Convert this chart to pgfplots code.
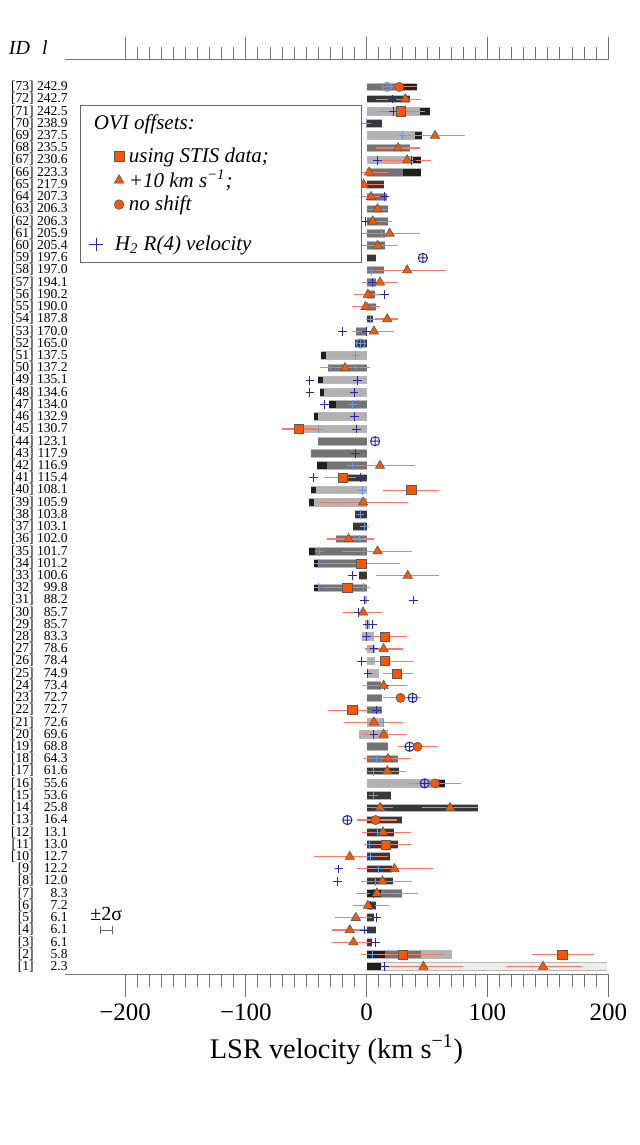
\documentclass[border=0pt]{standalone}
\usepackage{fontspec}
\setmainfont{Liberation Serif}
\usepackage{pgfplots}
\usepackage{pgfplotstable}
\pgfplotsset{compat=1.18}

\definecolor{orng}{RGB}{255,85,0}
\definecolor{errc}{RGB}{255,120,100}
\definecolor{hblue}{RGB}{40,40,170}
\definecolor{hlight}{RGB}{110,150,225}

\newcommand\lb[2]{\makebox[14pt][r]{[#1]}\makebox[17pt][r]{#2}}
\newcommand\ls{\rule[-3.2pt]{0pt}{10.95pt}}

% bars: y, start, length
\pgfplotstableread{
y a d
1 0 199
}\vlightbars
\pgfplotstableread{
y a d
71 0 52
69 0 46
67 0 45
51 -38 38
49 -40 40
48 -39 39
46 -44 44
45 -59 59
40 -46 46
39 -48 48
31 -2 2
29 -1 4
28 -3.6 9.6
27 0 7
26 0 7
25 0 10
21 0 14
20 -6 23.5
16 0 64.5
2 0 71
}\lightbars
\pgfplotstableread{
y a d
73 0 42
68 0 36
66 0 45
64 0 17
63 0 18
62 0 18
61 0 15
60 0 15
58 0 14
57 0 8
56 0 7
55 0 8
53 -9 9
50 -32 32
47 -31 31
44 -40 40
43 -46 46
42 -41 41
36 -25 25
35 -47.5 47.5
34 -44 44
32 -43.5 43.5
24 0 12
23 0 12.5
22 0 13
19 0 18
18 0 25.5
7 0 29
2 0 45
}\midbars
\pgfplotstableread{
y a d
72 0 36
70 0 13
65 0 14
59 0 8
54 0 5
52 -9.5 9.5
41 -23 23
38 -10 10
37 -11 11
33 -6 6
17 0 27
15 0 20
14 0 92
13 0 29.5
12 0 23
11 0 26
10 0 19
9 0 21
8 0 22
6 0 8
5 0 6
4 0 8
3 0 4.5
}\darkbars
\pgfplotstableread{
y a d
73 30 12
71 44 8
69 40 6
67 38 7
66 30 15
16 57 7.5
51 -38 4
49 -40 4
48 -39 4
46 -44 4
45 -59 5
40 -46 4
39 -48 4
47 -31 6
42 -41 8
35 -47.5 4.5
34 -44 4
32 -43.5 4
7 0 12
2 0 15
1 0 12
}\darkends

% OVI offsets: x, y, error minus, error plus
\pgfplotstableread{
x y em ep
32 72 24 13
56.6 69 23.6 24.4
26 68 18 18
33.5 67 20.5 19.5
2 66 13.5 16
-2.5 65 11.5 16.5
3.6 64 11.6 13.4
9 63 9 8
5 62 16 16
19 61 27 25
9 60 18 17
33.5 58 33.5 32.5
11 57 15 15
1 56 11.7 12.4
-1 55 10.8 11.7
17 54 10 9
6 53 18 17
-18 50 21 21
11 42 27 29
-3 39 36 37
-15 36 18 21
9 35 28.5 28.7
34 33 26 26
-3 30 16.5 16
14 27 15.4 16
14 24 17 19
6 21 25 24
14 20 18 19.5
17.6 18 19.6 19.4
17 17 17.8 15.7
11 14 11 11
69 14 23 23
13.5 12 17 23.5
-14 10 30 31.5
23 9 31 32
13 8 18 24.5
8.5 7 17.5 34
1 6 12 17.5
-9 5 17 14
-14 4 15 14
-11 3 18 16
47 1 29.4 32.4
146 1 31 32
}\tritab
\pgfplotstableread{
x y em ep
28 71 19 20
-56 45 14 15
-20 41 15 16
37 40 23.5 23
-4.4 34 34.1 31.9
-16 32 19 18.5
15 28 16.4 18.6
15 26 22 24
25 25 11.5 13
-12 22 20 13
16 11 18 21
30 2 35 34
162 2 25.4 26
}\sqrtab
\pgfplotstableread{
x y em ep
27 73 15 15
28 23 14.5 17
42 19 16 17
56.6 16 22.6 21.4
7.4 13 15.4 17.6
}\circtab

% H2 R(4) velocities
\pgfplotstableread{
x y
22.5 71
21 72
9 67
37 67
-9 66
15 64
-1 62
5 57
15 56
-20 53
0 53
-47 49
-7.5 49
-47 48
-10.5 48
-35 47
-10 46
-8.5 45
-9 43
-44 41
-5 41
-12 33
-1.5 31
39 31
-6.5 30
0.5 29
5 29
0 28
6 27
-4 26
1 25
15 24
8 22
6 20
6 7
3 6
8 5
-2 4
7 3
15 1
-23 9
-24.5 8
}\hdark
\pgfplotstableread{
x y
0 70
30 69
28 68
12 61
4 58
1 55
3 54
-9 51
-30 50
-9 50
-12 47
-40 45
-12 42
-3.5 40
-4 39
-5.5 38
-1.5 37
-6 36
-39 35
-3 35
-40 34
-40 32
-3 32
14 21
8 18
6 17
5.5 15
12.5 14
9 12
2 11
3 10
10 9
7 8
5 2
}\hlt
\pgfplotstableread{
x y
46.5 59
7 44
38 23
35.5 19
48 16
-16 13
}\oplusdark
\pgfplotstableread{
x y
17 73
-5 52
}\opluslight

\pgfplotsset{
  barb/.style={draw=none, mark=none, forget plot,
    error bars/.cd, x dir=plus, x explicit, error mark=none,
    error bar style={line width=4.3pt, draw=black!28}},
  barf/.style={draw=none, mark=none, forget plot,
    error bars/.cd, x dir=plus, x explicit, error mark=none,
    error bar style={line width=3.3pt, draw=#1}},
  omark/.style={only marks, forget plot, mark=#1,
    mark options={fill=orng, draw=black!65, line width=0.3pt},
    error bars/.cd, x dir=both, x explicit, error mark=none,
    error bar style={draw=errc, line width=0.55pt}},
  onept/.style={legend image code/.code={\draw[##1] plot coordinates {(0cm,0cm)};}},
}

\begin{document}
\begin{tikzpicture}
\useasboundingbox (-32.35pt,-85.5pt) rectangle (287.65pt,487pt);
\begin{axis}[
  at={(0,0)}, anchor=south west,
  scale only axis, width=271.8pt, height=457pt,
  xmin=-250, xmax=200, ymin=0.4, ymax=75.2,
  clip=false,
  axis line style={draw=none},
  tick align=outside,
  xtick={-200,-100,0,100,200},
  xticklabels={−200,−100,0,100,200},
  minor x tick num=9,
  xtick pos=both, xticklabel pos=lower,
  major tick length=11.5pt, minor tick length=6.5pt,
  xtick style={draw=black!55, line width=0.5pt},
  minor tick style={draw=black!55, line width=0.5pt},
  xticklabel style={font=\fontsize{12.5}{14}\selectfont},
  xlabel={LSR velocity (km s\textsuperscript{−1})},
  xlabel style={font=\fontsize{14.2}{16}\selectfont},
  ytick={1,...,73},
  ytick style={draw=none},
  yticklabel style={font=\fontsize{6.8}{7.5}\selectfont, anchor=east, inner sep=0pt, xshift=13.2pt},
  yticklabels={\lb{1}{2.3},\lb{2}{5.8},\lb{3}{6.1},\lb{4}{6.1},\lb{5}{6.1},\lb{6}{7.2},\lb{7}{8.3},\lb{8}{12.0},\lb{9}{12.2},\lb{10}{12.7},
    \lb{11}{13.0},\lb{12}{13.1},\lb{13}{16.4},\lb{14}{25.8},\lb{15}{53.6},\lb{16}{55.6},\lb{17}{61.6},\lb{18}{64.3},\lb{19}{68.8},\lb{20}{69.6},
    \lb{21}{72.6},\lb{22}{72.7},\lb{23}{72.7},\lb{24}{73.4},\lb{25}{74.9},\lb{26}{78.4},\lb{27}{78.6},\lb{28}{83.3},\lb{29}{85.7},\lb{30}{85.7},
    \lb{31}{88.2},\lb{32}{99.8},\lb{33}{100.6},\lb{34}{101.2},\lb{35}{101.7},\lb{36}{102.0},\lb{37}{103.1},\lb{38}{103.8},\lb{39}{105.9},\lb{40}{108.1},
    \lb{41}{115.4},\lb{42}{116.9},\lb{43}{117.9},\lb{44}{123.1},\lb{45}{130.7},\lb{46}{132.9},\lb{47}{134.0},\lb{48}{134.6},\lb{49}{135.1},\lb{50}{137.2},
    \lb{51}{137.5},\lb{52}{165.0},\lb{53}{170.0},\lb{54}{187.8},\lb{55}{190.0},\lb{56}{190.2},\lb{57}{194.1},\lb{58}{197.0},\lb{59}{197.6},\lb{60}{205.4},
    \lb{61}{205.9},\lb{62}{206.3},\lb{63}{206.3},\lb{64}{207.3},\lb{65}{217.9},\lb{66}{223.3},\lb{67}{230.6},\lb{68}{235.5},\lb{69}{237.5},\lb{70}{238.9},
    \lb{71}{242.5},\lb{72}{242.7},\lb{73}{242.9}},
  legend style={at={(rel axis cs:0.0281,0.9508)}, anchor=north west,
    draw=black!60, fill=white, line width=0.5pt,
    font=\fontsize{10.5}{12}\selectfont\itshape,
    row sep=1.5pt, column sep=2.1pt, inner xsep=4.5pt, inner ysep=4pt,
    nodes={inner sep=0.4pt}, cells={anchor=west}},
]
% top and bottom axis lines
\draw[black!55, line width=0.5pt] (rel axis cs:0,0) -- (rel axis cs:1,0);
\draw[black!55, line width=0.5pt] (rel axis cs:0,1) -- (rel axis cs:1,1);

% bars
\addplot[barb] table[x=a, y=y, x error=d] {\vlightbars};
\addplot[barb] table[x=a, y=y, x error=d] {\lightbars};
\addplot[barb] table[x=a, y=y, x error=d] {\midbars};
\addplot[barb] table[x=a, y=y, x error=d] {\darkbars};
\addplot[barf=black!7] table[x=a, y=y, x error=d] {\vlightbars};
\addplot[barf=black!30] table[x=a, y=y, x error=d] {\lightbars};
\addplot[barf=black!55] table[x=a, y=y, x error=d] {\midbars};
\addplot[barf=black!78] table[x=a, y=y, x error=d] {\darkbars};
\addplot[barf=black!88] table[x=a, y=y, x error=d] {\darkends};

% H2 R(4)
\addplot[only marks, forget plot, mark=+, mark size=2.2pt, hlight, line width=0.5pt] table[x=x, y=y] {\hlt};
\addplot[only marks, forget plot, mark=+, mark size=2.2pt, hblue, line width=0.5pt] table[x=x, y=y] {\hdark};
\addplot[only marks, forget plot, mark=oplus, mark size=2.3pt, hlight, line width=0.5pt] table[x=x, y=y] {\opluslight};
\addplot[only marks, forget plot, mark=oplus, mark size=2.3pt, hblue, line width=0.5pt] table[x=x, y=y] {\oplusdark};

% OVI
\addplot[mark size=2.7pt, omark=triangle*] table[x=x, y=y, x error minus=em, x error plus=ep] {\tritab};
\addplot[mark size=2.3pt, omark=square*] table[x=x, y=y, x error minus=em, x error plus=ep] {\sqrtab};
\addplot[mark size=2.3pt, omark=*] table[x=x, y=y, x error minus=em, x error plus=ep] {\circtab};

% 2 sigma scale
\addplot[forget plot, black!60, line width=0.4pt, mark=|, mark size=2.2pt,
  mark options={black!60, line width=0.4pt}]
  coordinates {(-220.5,4.0) (-210.5,4.0)};
\node[font=\fontsize{10}{12}\selectfont] at (axis cs:-215.5,5.3) {±2σ};
\node[font=\fontsize{10}{12}\selectfont\itshape, anchor=west] at (axis cs:-302,76.2) {ID\hspace{6pt}l};

% legend
\addlegendimage{empty legend}
\addlegendentry{\hspace*{-17.5pt}\ls OVI offsets:}
\addlegendimage{empty legend}
\addlegendentry{\rule{0pt}{1pt}}
\addlegendimage{only marks, mark=square*, mark size=2.4pt, mark options={fill=orng, draw=black!65, line width=0.3pt}, onept}
\addlegendentry{\ls\makebox[111.5pt][l]{using STIS data;}}
\addlegendimage{only marks, mark=triangle*, mark size=2.8pt, mark options={fill=orng, draw=black!65, line width=0.3pt}, onept}
\addlegendentry{\ls +10 km s\textsuperscript{−1};}
\addlegendimage{only marks, mark=*, mark size=2.4pt, mark options={fill=orng, draw=black!65, line width=0.3pt}, onept}
\addlegendentry{\ls no shift}
\addlegendimage{empty legend}
\addlegendentry{\rule{0pt}{4.45pt}}
\addlegendimage{only marks, mark=+, mark size=3.3pt, hblue, line width=0.5pt, mark options={xshift=-11.5pt}, onept}
\addlegendentry{\ls\hspace*{-7pt}H\textsubscript{2} R(4) velocity}
\end{axis}
\end{tikzpicture}
\end{document}
